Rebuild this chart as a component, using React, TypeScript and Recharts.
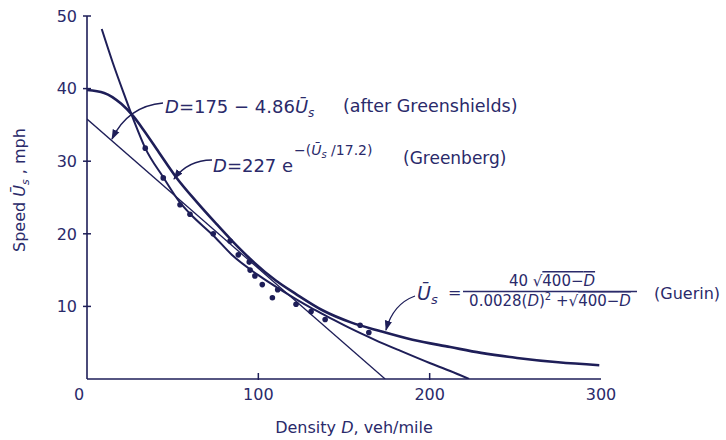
import React from 'react';
import { ComposedChart, Line, Scatter, XAxis, YAxis } from 'recharts';

// axis ticks
const xTicks = [0, 100, 200, 300];
const yTicks = [10, 20, 30, 40, 50];

// curves (D veh/mile, U mph)
const greenshields = [
  { d: 0, u: 35.8 },
  { d: 174, u: 0 },
];

const greenberg = [
  { d: 8.6, u: 48.2 },
  { d: 15, u: 43.6 },
  { d: 22, u: 39.0 },
  { d: 28, u: 35.2 },
  { d: 34, u: 31.8 },
  { d: 44.5, u: 27.8 },
  { d: 54, u: 24.4 },
  { d: 60, u: 22.8 },
  { d: 74, u: 19.7 },
  { d: 85, u: 17.0 },
  { d: 100, u: 14.3 },
  { d: 115, u: 12.0 },
  { d: 130, u: 9.9 },
  { d: 142, u: 8.4 },
  { d: 153.5, u: 7.0 },
  { d: 168, u: 5.4 },
  { d: 182.7, u: 3.9 },
  { d: 200, u: 2.2 },
  { d: 212, u: 1.1 },
  { d: 223, u: 0 },
];

const guerin = [
  { d: 0, u: 39.8 },
  { d: 10, u: 39.4 },
  { d: 20, u: 37.9 },
  { d: 27, u: 36.2 },
  { d: 33, u: 34.3 },
  { d: 42, u: 31.2 },
  { d: 52, u: 27.8 },
  { d: 64, u: 24.4 },
  { d: 75, u: 21.5 },
  { d: 84, u: 19.2 },
  { d: 95, u: 16.6 },
  { d: 110, u: 13.6 },
  { d: 122, u: 11.7 },
  { d: 138, u: 9.4 },
  { d: 154, u: 7.8 },
  { d: 171, u: 6.6 },
  { d: 190, u: 5.4 },
  { d: 212, u: 4.4 },
  { d: 230, u: 3.6 },
  { d: 251, u: 2.9 },
  { d: 275, u: 2.3 },
  { d: 299, u: 1.9 },
];

// observed points
const observed = [
  { d: 34, u: 31.8 },
  { d: 44.5, u: 27.7 },
  { d: 54.3, u: 24.0 },
  { d: 60.1, u: 22.7 },
  { d: 73.7, u: 20.0 },
  { d: 83.5, u: 19.0 },
  { d: 88.3, u: 17.1 },
  { d: 94.7, u: 16.1 },
  { d: 95.2, u: 15.0 },
  { d: 98, u: 14.2 },
  { d: 102.3, u: 13.0 },
  { d: 111.3, u: 12.3 },
  { d: 108.2, u: 11.2 },
  { d: 122, u: 10.3 },
  { d: 130.8, u: 9.3 },
  { d: 139, u: 8.2 },
  { d: 159.4, u: 7.4 },
  { d: 164.5, u: 6.4 },
];

const INK = '#1e1e58';
const TEXT = '#2a2a6a';
const FONT = '"DejaVu Sans", sans-serif';

const YTick = ({ x, y, payload }: any) => (
  <g>
    <line x1={x - 4} x2={x + 4} y1={y} y2={y} stroke={INK} strokeWidth={1.5} />
    <text x={x - 10} y={y} dy="0.36em" textAnchor="end" fill={TEXT} fontSize={16} fontFamily={FONT}>
      {payload.value}
    </text>
  </g>
);

const XTick = ({ x, y, payload }: any) => {
  const v = payload.value;
  return (
    <g>
      {v > 0 && v < 300 && <line x1={x} x2={x} y1={y - 6} y2={y + 1} stroke={INK} strokeWidth={1.5} />}
      <text x={v === 0 ? x - 8 : x} y={y + 15} dy="0.36em" textAnchor="middle" fill={TEXT} fontSize={16} fontFamily={FONT}>
        {v}
      </text>
    </g>
  );
};

const Dot = ({ cx, cy }: any) => <circle cx={cx} cy={cy} r={2.8} fill={INK} />;

const it = { fontStyle: 'italic' as const };
const over = { textDecoration: 'overline' };

export default function App() {
  return (
    <div style={{ position: 'relative', width: 726, height: 440, background: '#fff' }}>
      <style>{'body{margin:0}'}</style>
      <ComposedChart width={726} height={440} margin={{ top: 16, right: 125, bottom: 31, left: 27 }}>
        <XAxis
          type="number"
          dataKey="d"
          domain={[0, 300]}
          ticks={xTicks}
          tick={<XTick />}
          tickLine={false}
          tickSize={0}
          tickMargin={0}
          height={30}
          axisLine={{ stroke: INK, strokeWidth: 1.6 }}
          allowDataOverflow
        />
        <YAxis
          type="number"
          dataKey="u"
          domain={[0, 50]}
          ticks={yTicks}
          tick={<YTick />}
          tickLine={false}
          tickSize={0}
          tickMargin={0}
          width={60}
          axisLine={{ stroke: INK, strokeWidth: 1.6 }}
          allowDataOverflow
        />
        <Line data={greenshields} dataKey="u" type="linear" stroke={INK} strokeWidth={1.3} dot={false} isAnimationActive={false} />
        <Line data={greenberg} dataKey="u" type="monotone" stroke={INK} strokeWidth={2} dot={false} isAnimationActive={false} />
        <Line data={guerin} dataKey="u" type="monotone" stroke={INK} strokeWidth={2.6} dot={false} isAnimationActive={false} />
        <Scatter data={observed} dataKey="u" shape={<Dot />} isAnimationActive={false} />
      </ComposedChart>

      <svg width={726} height={440} style={{ position: 'absolute', left: 0, top: 0, pointerEvents: 'none' }} fontFamily={FONT} fill={TEXT}>
        <defs>
          <marker id="arr" viewBox="0 0 10 10" refX="9" refY="5" markerWidth="8" markerHeight="8" orient="auto">
            <path d="M0,1.5 L10,5 L0,8.5 z" fill={INK} />
          </marker>
        </defs>

        {/* Greenshields */}
        <text x={165} y={113} fontSize={18}>
          <tspan style={it}>D</tspan>=175 − 4.86<tspan style={it}>Ū</tspan>
          <tspan style={it} fontSize={12} dy={4}>s</tspan>
        </text>
        <text x={343} y={112} fontSize={17.5}>(after Greenshields)</text>
        <path d="M163,103 Q128,106 112,139" fill="none" stroke={INK} strokeWidth={1.3} markerEnd="url(#arr)" />

        {/* Greenberg */}
        <text x={213} y={172} fontSize={18}>
          <tspan style={it}>D</tspan>=227 e
        </text>
        <text x={294} y={155} fontSize={14}>
          −(<tspan style={it}>Ū</tspan>
          <tspan style={it} fontSize={10} dy={3}>s</tspan>
          <tspan dy={-3}> /17.2)</tspan>
        </text>
        <text x={403} y={164} fontSize={17}>(Greenberg)</text>
        <path d="M212,160 Q188,160 174,179" fill="none" stroke={INK} strokeWidth={1.3} markerEnd="url(#arr)" />

        {/* Guerin */}
        <text x={417} y={300} fontSize={19}>
          <tspan style={it}>Ū</tspan>
          <tspan style={it} fontSize={13} dy={4}>s</tspan>
        </text>
        <text x={448} y={298} fontSize={16}>=</text>
        <text x={552} y={286} fontSize={15} textAnchor="middle">
          40 √<tspan style={over}>400−<tspan style={it}>D</tspan></tspan>
        </text>
        <line x1={463} x2={637} y1={291.5} y2={291.5} stroke={TEXT} strokeWidth={1.3} />
        <text x={550} y={306} fontSize={15} textAnchor="middle">
          0.0028(<tspan style={it}>D</tspan>)<tspan fontSize={10} dy={-6}>2</tspan>
          <tspan dy={6}> +√</tspan>
          <tspan style={over}>400−<tspan style={it}>D</tspan></tspan>
        </text>
        <text x={654} y={299} fontSize={16}>(Guerin)</text>
        <path d="M415,296 Q393,304 386,330" fill="none" stroke={INK} strokeWidth={1.3} markerEnd="url(#arr)" />

        {/* axis titles */}
        <text x={354} y={433} fontSize={16} textAnchor="middle">
          Density <tspan style={it}>D</tspan>, veh/mile
        </text>
        <text transform="translate(25,252) rotate(-90)" fontSize={16}>
          Speed <tspan style={it}>Ū</tspan>
          <tspan style={it} fontSize={11} dy={4}>s</tspan>
          <tspan dy={-4}> , mph</tspan>
        </text>
      </svg>
    </div>
  );
}
